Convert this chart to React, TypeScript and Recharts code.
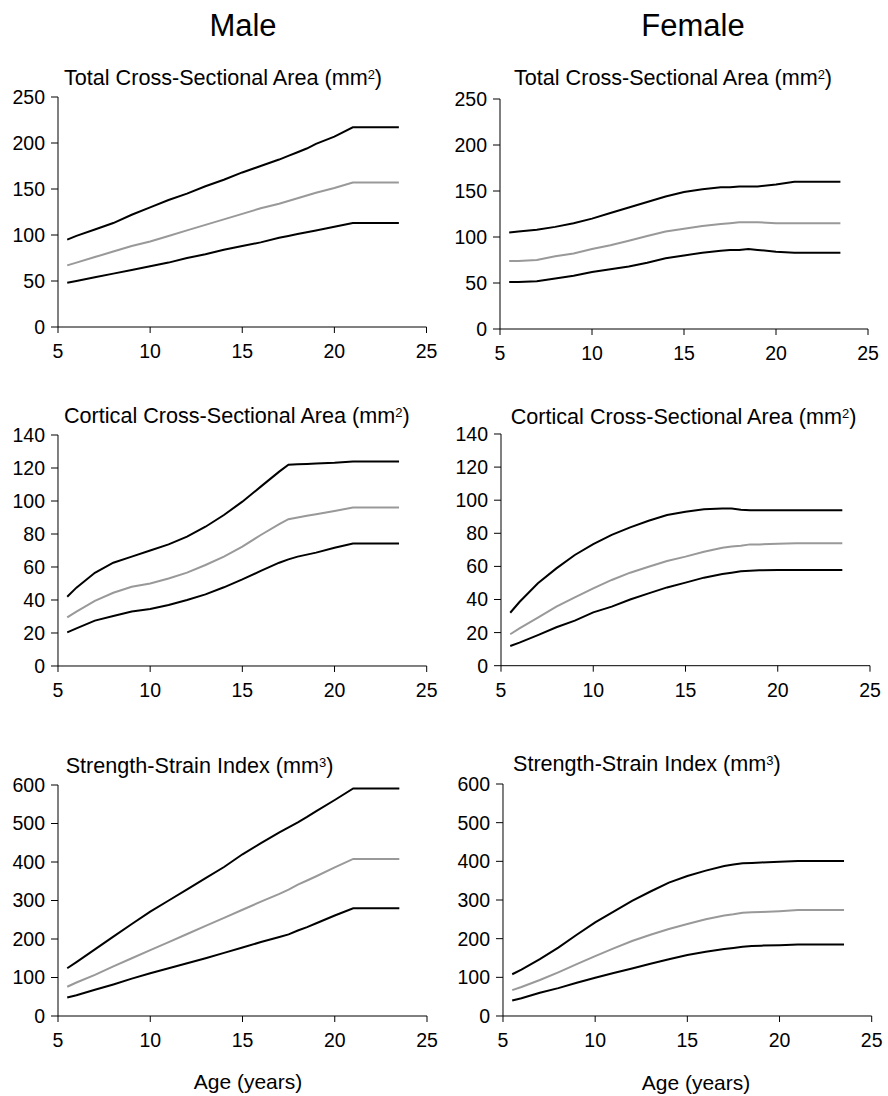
import React from 'react'
import { LineChart, Line, XAxis, YAxis } from 'recharts'

const FONT = '"Liberation Sans", Arial, Helvetica, sans-serif'

// age grid shared by all six panels (years)
const ages = [5.5, 6, 7, 8, 9, 10, 11, 12, 13, 14, 15, 16, 17, 17.5, 18, 18.5, 19, 20, 21, 22, 23, 23.5]
const xTicks = [5, 10, 15, 20, 25]

// Total cross-sectional area (mm2)
const maleTotalUpper = [95, 99, 106, 113, 122, 130, 138, 145, 153, 160, 168, 175, 182, 186, 190, 194, 199, 207, 217, 217, 217, 217]
const maleTotalMedian = [67, 70, 76, 82, 88, 93, 99, 105, 111, 117, 123, 129, 134, 137, 140, 143, 146, 151, 157, 157, 157, 157]
const maleTotalLower = [48, 50, 54, 58, 62, 66, 70, 75, 79, 84, 88, 92, 97, 99, 101, 103, 105, 109, 113, 113, 113, 113]
const femaleTotalUpper = [105, 106, 108, 111, 115, 120, 126, 132, 138, 144, 149, 152, 154, 154, 155, 155, 155, 157, 160, 160, 160, 160]
const femaleTotalMedian = [74, 74, 75, 79, 82, 87, 91, 96, 101, 106, 109, 112, 114, 115, 116, 116, 116, 115, 115, 115, 115, 115]
const femaleTotalLower = [51, 51, 52, 55, 58, 62, 65, 68, 72, 77, 80, 83, 85, 86, 86, 87, 86, 84, 83, 83, 83, 83]
const totalTicks = [0, 50, 100, 150, 200, 250]

// Cortical cross-sectional area (mm2)
const maleCortUpper = [42, 47.5, 56.5, 62.6, 66.3, 70, 73.7, 78.4, 84.4, 91.5, 99.6, 108.7, 117.8, 122, 122.3, 122.5, 122.8, 123.2, 124, 124, 124, 124]
const maleCortMedian = [29.5, 33, 39.5, 44.4, 48, 50, 53, 56.6, 61.2, 66.3, 72.3, 79.4, 86, 89, 90, 91, 92, 94, 96, 96, 96, 96]
const maleCortLower = [20.4, 22.8, 27.5, 30.3, 33, 34.5, 37, 40, 43.4, 47.7, 52.5, 57.6, 62.6, 64.6, 66.3, 67.5, 68.7, 71.7, 74.3, 74.3, 74.3, 74.3]
const femaleCortUpper = [32, 38.5, 49.8, 58.8, 66.9, 73.5, 79, 83.6, 87.6, 91, 93, 94.5, 95, 95, 94.3, 94, 94, 94, 94, 94, 94, 94]
const femaleCortMedian = [19, 22.5, 29, 35.7, 41.3, 46.7, 51.8, 56.2, 59.8, 63.3, 65.9, 68.9, 71.3, 72, 72.5, 73.3, 73.3, 73.7, 74, 74, 74, 74]
const femaleCortLower = [11.9, 13.9, 18.5, 23.2, 27.2, 32.2, 35.7, 40, 43.7, 47.3, 50.2, 53.2, 55.4, 56.2, 57, 57.4, 57.6, 57.8, 57.8, 57.8, 57.8, 57.8]
const cortTicks = [0, 20, 40, 60, 80, 100, 120, 140]

// Strength-strain index (mm3)
const maleSsiUpper = [124, 140, 173, 206, 239, 271, 300, 329, 358, 387, 420, 449, 477, 490, 503, 517, 532, 561, 591, 591, 591, 591]
const maleSsiMedian = [76, 87, 107, 129, 150, 171, 192, 213, 234, 255, 276, 297, 317, 328, 341, 352, 363, 386, 408, 408, 408, 408]
const maleSsiLower = [48, 54, 68, 82, 97, 111, 124, 137, 150, 164, 178, 192, 205, 212, 222, 231, 241, 261, 280, 280, 280, 280]
const femaleSsiUpper = [108, 120, 147, 177, 210, 242, 270, 298, 322, 345, 362, 376, 388, 392, 395, 396, 397, 399, 401, 401, 401, 401]
const femaleSsiMedian = [67, 75, 93, 113, 134, 155, 175, 194, 210, 225, 238, 250, 260, 263, 267, 268, 269, 271, 274, 274, 274, 274]
const femaleSsiLower = [40, 46, 60, 72, 86, 99, 111, 123, 135, 147, 158, 166, 173, 176, 179, 181, 182, 183, 185, 185, 185, 185]
const ssiTicks = [0, 100, 200, 300, 400, 500, 600]

const toRows = (upper: number[], median: number[], lower: number[]) =>
  ages.map((age, i) => ({ age, upper: upper[i], median: median[i], lower: lower[i] }))

interface PanelProps {
  x0: number
  y0: number
  x1: number
  y1: number
  upper: number[]
  median: number[]
  lower: number[]
  ticks: number[]
}

const Panel: React.FC<PanelProps> = ({ x0, y0, x1, y1, upper, median, lower, ticks }) => {
  const padL = 5
  const axisW = 50
  const padT = 12
  const padR = 22
  const axisH = 40
  const width = x1 - x0 + padL + axisW + padR
  const height = y1 - y0 + padT + axisH
  const tickStyle = { fill: '#000', fontSize: 19.5, fontFamily: FONT }
  return (
    <div style={{ position: 'absolute', left: x0 - padL - axisW, top: y0 - padT }}>
      <LineChart width={width} height={height} data={toRows(upper, median, lower)}
        margin={{ top: padT, right: padR, left: padL, bottom: 0 }}>
        <XAxis dataKey="age" type="number" domain={[5, 25]} ticks={xTicks} interval={0}
          stroke="#000" tick={tickStyle} tickSize={6} tickMargin={11} height={axisH} />
        <YAxis type="number" domain={[0, ticks[ticks.length - 1]]} ticks={ticks} interval={0}
          stroke="#000" tick={tickStyle} tickSize={7} tickMargin={6} width={axisW} />
        <Line type="linear" dataKey="upper" stroke="#000" strokeWidth={2} dot={false} isAnimationActive={false} />
        <Line type="linear" dataKey="median" stroke="#999999" strokeWidth={2} dot={false} isAnimationActive={false} />
        <Line type="linear" dataKey="lower" stroke="#000" strokeWidth={2} dot={false} isAnimationActive={false} />
      </LineChart>
    </div>
  )
}

const Title: React.FC<{ left: number; cy: number; text: string; sup: string }> = ({ left, cy, text, sup }) => (
  <div style={{ position: 'absolute', left: left - 1, top: cy - 10.6, fontSize: 21.6, lineHeight: 1, fontFamily: FONT, whiteSpace: 'nowrap', color: '#000' }}>
    {text} (mm<sup style={{ fontSize: 13, verticalAlign: 'top', lineHeight: 1, position: 'relative', top: 1 }}>{sup}</sup>)
  </div>
)

const Center: React.FC<{ cx: number; top: number; size: number; text: string }> = ({ cx, top, size, text }) => (
  <div style={{ position: 'absolute', left: cx - 100, width: 200, top, textAlign: 'center', fontSize: size, lineHeight: 1, fontFamily: FONT, color: '#000' }}>
    {text}
  </div>
)

export default function App() {
  return (
    <div style={{ position: 'absolute', left: 0, top: 0, width: 888, height: 1096, background: '#fff', overflow: 'hidden' }}>
      <Center cx={243} top={10} size={31} text="Male" />
      <Center cx={693} top={10} size={31} text="Female" />

      <Title left={65} cy={77.5} text="Total Cross-Sectional Area" sup="2" />
      <Title left={515} cy={77.5} text="Total Cross-Sectional Area" sup="2" />
      <Panel x0={58} y0={97} x1={426.5} y1={327} upper={maleTotalUpper} median={maleTotalMedian} lower={maleTotalLower} ticks={totalTicks} />
      <Panel x0={500} y0={99} x1={868} y1={329} upper={femaleTotalUpper} median={femaleTotalMedian} lower={femaleTotalLower} ticks={totalTicks} />

      <Title left={65} cy={415.5} text="Cortical Cross-Sectional Area" sup="2" />
      <Title left={511.7} cy={416.3} text="Cortical Cross-Sectional Area" sup="2" />
      <Panel x0={58} y0={435} x1={426.7} y1={666} upper={maleCortUpper} median={maleCortMedian} lower={maleCortLower} ticks={cortTicks} />
      <Panel x0={500.7} y0={434} x1={869.7} y1={665.7} upper={femaleCortUpper} median={femaleCortMedian} lower={femaleCortLower} ticks={cortTicks} />

      <Title left={66.7} cy={765.3} text="Strength-Strain Index" sup="3" />
      <Title left={514} cy={763.7} text="Strength-Strain Index" sup="3" />
      <Panel x0={58} y0={785} x1={427} y1={1016} upper={maleSsiUpper} median={maleSsiMedian} lower={maleSsiLower} ticks={ssiTicks} />
      <Panel x0={503} y0={784} x1={871.7} y1={1016} upper={femaleSsiUpper} median={femaleSsiMedian} lower={femaleSsiLower} ticks={ssiTicks} />

      <Center cx={248} top={1071} size={21} text="Age (years)" />
      <Center cx={696} top={1072} size={21} text="Age (years)" />
    </div>
  )
}
